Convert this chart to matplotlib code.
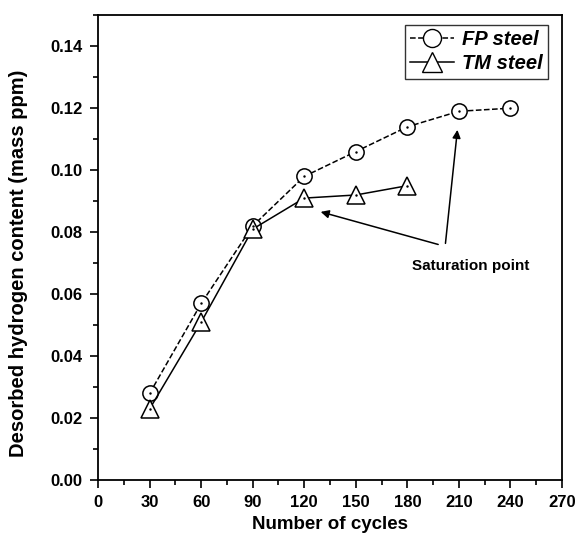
import matplotlib
matplotlib.use("Agg")
import matplotlib.pyplot as plt
from matplotlib.ticker import MultipleLocator
from matplotlib.lines import Line2D

plt.rcParams['font.family'] = ['Liberation Sans', 'DejaVu Sans']

cycles_fp = [30, 60, 90, 120, 150, 180, 210, 240]
fp_steel = [0.028, 0.057, 0.082, 0.098, 0.106, 0.114, 0.119, 0.120]
cycles_tm = [30, 60, 90, 120, 150, 180]
tm_steel = [0.023, 0.051, 0.081, 0.091, 0.092, 0.095]

fig = plt.figure(figsize=(5.77, 5.42), dpi=100)
ax = fig.add_axes([0.170, 0.114, 0.804, 0.858])

ax.plot(cycles_fp, fp_steel, linestyle='--', color='black', lw=1.1,
        marker='o', markersize=11, markerfacecolor='white', markeredgecolor='black', markeredgewidth=1.1, zorder=3)
ax.plot(cycles_fp, fp_steel, linestyle='none', marker='.', markersize=1.5, color='black', zorder=4)
ax.plot(cycles_tm, tm_steel, linestyle='-', color='black', lw=1.1,
        marker='^', markersize=13, markerfacecolor='white', markeredgecolor='black', markeredgewidth=1.1, zorder=3)
ax.plot(cycles_tm, tm_steel, linestyle='none', marker='.', markersize=1.5, color='black', zorder=4)

ax.set_xlim(0, 270)
ax.set_ylim(0, 0.15)
ax.xaxis.set_major_locator(MultipleLocator(30))
ax.xaxis.set_minor_locator(MultipleLocator(15))
ax.yaxis.set_minor_locator(MultipleLocator(0.01))
ax.set_yticks([0, 0.02, 0.04, 0.06, 0.08, 0.10, 0.12, 0.14])
ax.set_yticklabels(['0.00', '0.02', '0.04', '0.06', '0.08', '0.10', '0.12', '0.14'])
ax.tick_params(which='major', direction='out', length=6, width=1.2, labelsize=12, pad=5)
ax.tick_params(which='minor', direction='out', length=3.5, width=1.2)
for lab in ax.get_xticklabels() + ax.get_yticklabels():
    lab.set_fontweight('bold')
for s in ax.spines.values():
    s.set_linewidth(1.3)

ax.set_xlabel('Number of cycles', fontsize=13.5, fontweight='bold', labelpad=4)
ax.set_ylabel('Desorbed hydrogen content (mass ppm)', fontsize=14.5, fontweight='bold')
ax.yaxis.set_label_coords(-0.152, 0.467)

ax.annotate('', xy=(128, 0.0868), xytext=(199.5, 0.0758),
            arrowprops=dict(arrowstyle='-|>', color='black', lw=1.1, mutation_scale=12))
ax.annotate('', xy=(209.3, 0.1139), xytext=(202, 0.0755),
            arrowprops=dict(arrowstyle='-|>', color='black', lw=1.1, mutation_scale=12))
ax.text(217, 0.069, 'Saturation point', fontsize=11, fontweight='bold', ha='center', va='center')

handles = [
    Line2D([], [], linestyle='--', color='black', lw=1.1, marker='o', markersize=13,
           markerfacecolor='white', markeredgecolor='black'),
    Line2D([], [], linestyle='-', color='black', lw=1.1, marker='^', markersize=15,
           markerfacecolor='white', markeredgecolor='black'),
]
leg = ax.legend(handles, ['FP steel', 'TM steel'], loc='upper right', frameon=True, fancybox=False,
                edgecolor='black', prop={'style': 'italic', 'weight': 'bold', 'size': 14.5},
                handlelength=2.2, borderpad=0.25, labelspacing=0.25, handletextpad=0.4,
                borderaxespad=0, bbox_to_anchor=(0.97, 0.978))
leg.get_frame().set_linewidth(1.0)

fig.savefig('out.png', dpi=100)
